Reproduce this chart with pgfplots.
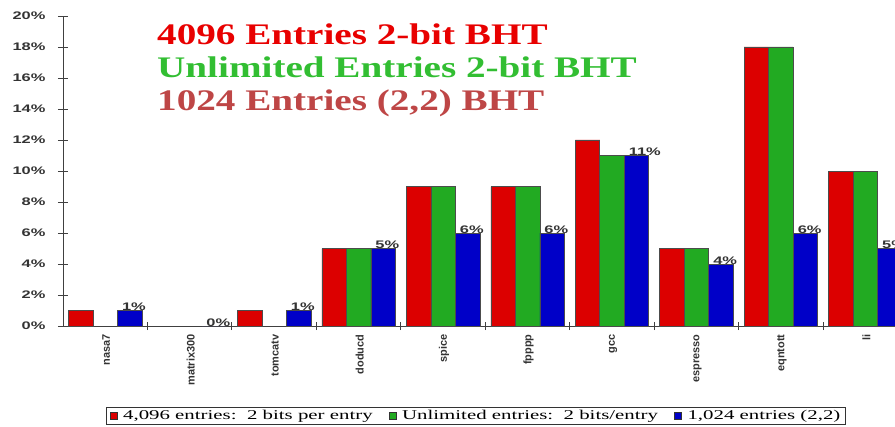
\documentclass[border=0pt]{standalone}
\usepackage{graphicx}
\usepackage{fontspec}
\setmainfont{Liberation Serif}
\setsansfont{Liberation Sans}
\usepackage{pgfplots}
\pgfplotsset{compat=1.18}
\definecolor{cred}{RGB}{220,0,0}
\definecolor{cgreen}{RGB}{34,170,34}
\definecolor{cblue}{RGB}{0,0,200}
\definecolor{tred}{RGB}{232,0,0}
\definecolor{tgreen}{RGB}{50,190,50}
\definecolor{tbrown}{RGB}{190,70,70}
\newcommand\yl[1]{\scalebox{1.5}[1]{#1\%}}
\newcommand\lx[1]{\scalebox{1.55}[1]{#1}}
\newcommand\tx[1]{\scalebox{1.31}[1]{#1}}
\begin{document}
\begin{tikzpicture}
\path[use as bounding box] (-63bp,-101bp) rectangle (832bp,326bp);
\begin{axis}[
  at={(0,0)}, anchor=south west,
  scale only axis, width=832bp, height=310bp,
  ymin=0, ymax=20, xmin=-0.5, xmax=9.35,
  axis lines*=left,
  axis line style={black!75, line width=1pt},
  ybar=0pt, bar width=24.5bp,
  ytick={0,2,...,20},
  yticklabels={\yl{0},\yl{2},\yl{4},\yl{6},\yl{8},\yl{10},\yl{12},\yl{14},\yl{16},\yl{18},\yl{20}},
  yticklabel style={font=\sffamily\bfseries\fontsize{11}{11}\selectfont, text=black!80, xshift=-9bp},
  xtick={0,...,9},
  xticklabels={nasa7,matrix300,tomcatv,doducd,spice,fpppp,gcc,espresso,eqntott,li},
  xticklabel style={rotate=90, anchor=east, font=\sffamily\bfseries\fontsize{11}{11}\selectfont, text=black!80, yshift=-1bp},
  minor x tick num=1,
  major x tick style={draw=none},
  tick align=center,
  major tick length=10bp, minor tick length=8bp,
  tick style={black!75, line width=1pt},
  every minor tick/.style={black!75, line width=1pt},
  legend style={at={(0.4964,-0.290)}, anchor=center, draw=black!80, line width=0.6pt,
    font=\rmfamily\fontsize{13.5}{13.5}\selectfont, legend columns=3,
    inner xsep=3bp, inner ysep=1bp,
    /tikz/every odd column/.append style={column sep=4bp},
    /tikz/every even column/.append style={column sep=14bp}},
  legend image code/.code={\draw[#1, draw=black!80, line width=0.5pt] (0bp,-3.5bp) rectangle (7bp,3.5bp);},
  every axis plot/.append style={draw=black!70, line width=0.6pt},
]
\addplot[fill=cred] coordinates {(0,1) (2,1) (3,5) (4,9) (5,9) (6,12) (7,5) (8,18) (9,10)};
\addplot[fill=cgreen] coordinates {(3,5) (4,9) (5,9) (6,11) (7,5) (8,18) (9,10)};
\addplot[fill=cblue,
  nodes near coords={\yl{\pgfmathprintnumber[assume math mode=true]{\pgfplotspointmeta}}},
  nodes near coords style={font=\sffamily\bfseries\fontsize{11}{11}\selectfont, text=black!80, anchor=south west, xshift=-9bp, yshift=-1.5bp, inner sep=1pt}]
  coordinates {(0,1) (1,0) (2,1) (3,5) (4,6) (5,6) (6,11) (7,4) (8,6) (9,5)};
\addlegendentry{\lx{4,096 entries:\ \ 2 bits per entry}}
\addlegendentry{\lx{Unlimited entries:\ \ 2 bits/entry}}
\addlegendentry{\lx{1,024 entries (2,2)}}
\end{axis}
\node[anchor=base west, text=tred, font=\rmfamily\bfseries\fontsize{30}{30}\selectfont, inner sep=0pt] at (94bp,281bp) {\tx{4096 Entries 2-bit BHT}};
\node[anchor=base west, text=tgreen, font=\rmfamily\bfseries\fontsize{30}{30}\selectfont, inner sep=0pt] at (94bp,248bp) {\tx{Unlimited Entries 2-bit BHT}};
\node[anchor=base west, text=tbrown, font=\rmfamily\bfseries\fontsize{30}{30}\selectfont, inner sep=0pt] at (94bp,215bp) {\tx{1024 Entries (2,2) BHT}};
\end{tikzpicture}
\end{document}
